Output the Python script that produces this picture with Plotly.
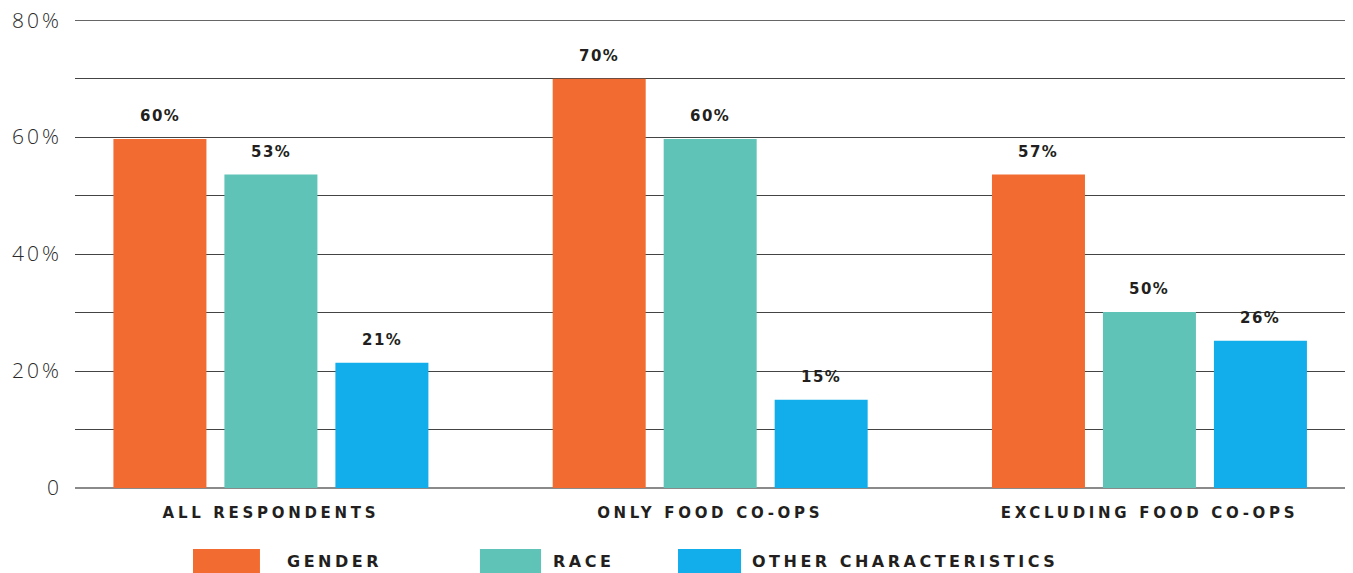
import plotly.graph_objects as go

categories = ["ALL RESPONDENTS", "ONLY FOOD CO-OPS", "EXCLUDING FOOD CO-OPS"]
series_names = ["GENDER", "RACE", "OTHER CHARACTERISTICS"]
gender_values = [59.7, 70.0, 53.6]
race_values = [53.6, 59.7, 30.1]
other_values = [21.4, 15.1, 25.2]
gender_labels = ["60%", "70%", "57%"]
race_labels = ["53%", "60%", "50%"]
other_labels = ["21%", "15%", "26%"]
y_tick_values = [0, 10, 20, 30, 40, 50, 60, 70, 80]
y_tick_labels = ["0", "", "20%", "", "40%", "", "60%", "", "80%"]

colors = ["#F26C32", "#60C3B8", "#12AEEC"]
values = [gender_values, race_values, other_values]
labels = [gender_labels, race_labels, other_labels]

BOLD = "DejaVu Sans"
LIGHT = "Open Sans"
DARK = "#231F20"
GRID = "#444444"


def spaced(t, px):
    return f'<span style="letter-spacing:{px}px">{t}</span>'


fig = go.Figure()
for name, vals, col in zip(series_names, values, colors):
    fig.add_trace(go.Bar(x=categories, y=vals, name=name, marker=dict(color=col, line=dict(width=0)),
                         showlegend=False, hoverinfo="skip"))

annotations = []
for i, (vals, labs) in enumerate(zip(values, labels)):
    for cat, v, lab in zip(categories, vals, labs):
        annotations.append(dict(x=cat, y=v, xref="x", yref="y", text=spaced(lab, 1.5), showarrow=False,
                                xshift=(i - 1) * 111, yshift=23, yanchor="middle",
                                font=dict(family=BOLD, size=15, color=DARK, weight="bold")))

# custom legend (large swatches)
legend_boxes = [(0.0927, 0.1453), (0.3181, 0.3661), (0.4737, 0.5232)]
legend_text_x = [0.165, 0.3739, 0.5302]
shapes = [dict(type="line", xref="paper", yref="y", x0=0, x1=1, y0=80, y1=80,
               line=dict(color="#666666", width=1.5))]
for (x0, x1), col, tx, name in zip(legend_boxes, colors, legend_text_x, series_names):
    shapes.append(dict(type="rect", xref="paper", yref="paper", x0=x0, x1=x1, y0=-0.1816, y1=-0.1303,
                       fillcolor=col, line=dict(width=0)))
    annotations.append(dict(x=tx, y=-0.1581, xref="paper", yref="paper", text=spaced(name, 3.5),
                            showarrow=False, xanchor="left", yanchor="middle",
                            font=dict(family=BOLD, size=16, color=DARK, weight="bold")))

fig.update_layout(
    width=1345, height=565,
    margin=dict(l=67, r=5, t=12, b=85, autoexpand=False),
    paper_bgcolor="white", plot_bgcolor="white",
    barmode="group", bargap=0.242, bargroupgap=0.162,
    annotations=annotations, shapes=shapes,
    xaxis=dict(range=[-0.446, 2.452], showgrid=False, zeroline=False, showline=False, ticks="",
               automargin=False,
               tickvals=categories, ticktext=[spaced(c, 3.7) for c in categories],
               tickfont=dict(family=BOLD, size=15, color=DARK, weight="bold"), ticklabelstandoff=14),
    yaxis=dict(range=[0, 80.03], tickvals=y_tick_values, ticktext=[spaced(t, 3) for t in y_tick_labels],
               automargin=False, ticklabeloverflow="allow",
               showgrid=True, gridcolor=GRID, gridwidth=1, zeroline=True, zerolinecolor="#8a8a8a",
               zerolinewidth=2, showline=False, ticks="", ticklabelstandoff=12,
               tickfont=dict(family=LIGHT, size=21, color="#2a2a2a", weight=300)),
)

fig.write_html("out.html")
